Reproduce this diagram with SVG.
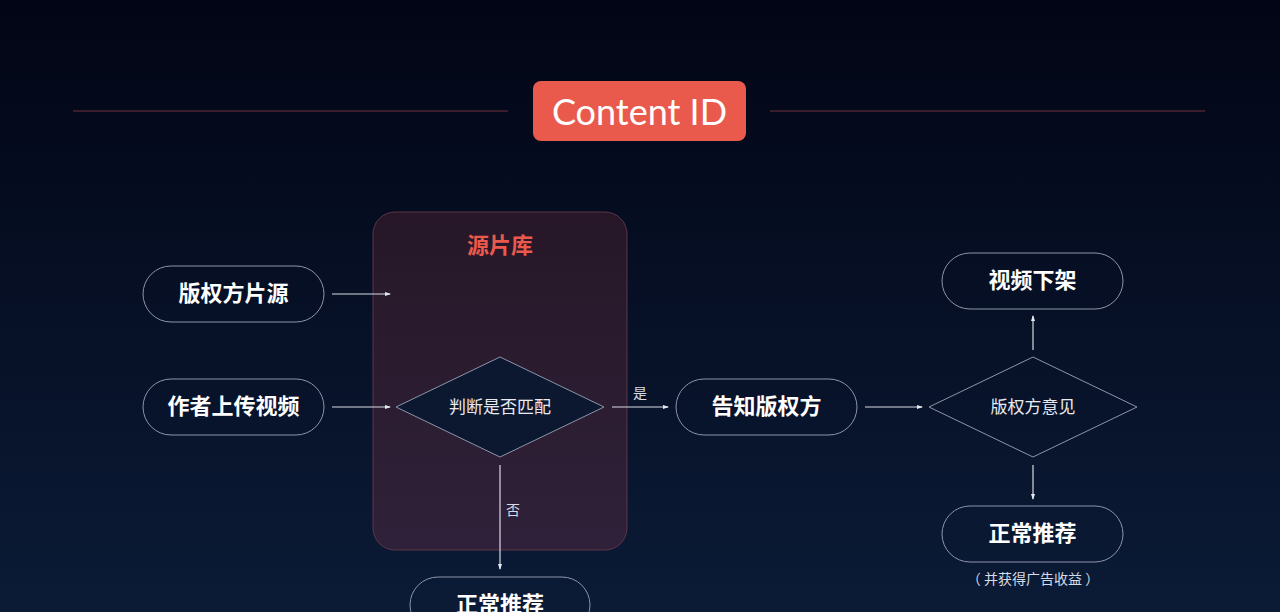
<svg xmlns="http://www.w3.org/2000/svg" width="1280" height="612" viewBox="0 0 1280 612">
<defs>
<linearGradient id="bg" x1="0" y1="0" x2="0" y2="1">
<stop offset="0" stop-color="#020515"/>
<stop offset="1" stop-color="#0b1b36"/>
</linearGradient>
<linearGradient id="lib" x1="0" y1="0" x2="0" y2="1">
<stop offset="0" stop-color="#2a1828"/>
<stop offset="1" stop-color="#33223a"/>
</linearGradient>
<marker id="ah" viewBox="0 0 6 6" refX="5" refY="3" markerWidth="6" markerHeight="6" orient="auto" markerUnits="userSpaceOnUse">
<path d="M0,1 L6,3 L0,5 Z" fill="#e6e9f0"/>
</marker>
<style>
.pill{fill:none;stroke:#8c95aa;stroke-width:1}
.dia{fill:#0c1730;stroke:#8c95aa;stroke-width:1}
.pt{font-family:"Noto Sans CJK SC","Noto Sans",sans-serif;font-size:22px;font-weight:700;fill:#ffffff;text-anchor:middle;dominant-baseline:central}
.dt{font-family:"Noto Sans CJK SC","Noto Sans",sans-serif;font-size:17px;font-weight:400;fill:#e8eaf0;text-anchor:middle;dominant-baseline:central}
.lbl{font-family:"Noto Sans CJK SC","Noto Sans",sans-serif;font-size:14px;fill:#d8dbe3;text-anchor:middle;dominant-baseline:central}
.conn{stroke:#d8dbe3;stroke-width:1.2;fill:none;marker-end:url(#ah)}
</style>
</defs>
<rect width="1280" height="612" fill="url(#bg)"/>
<g id="header">
<line x1="73" y1="111" x2="508" y2="111" stroke="#6e3340" stroke-width="1.2"/>
<line x1="770" y1="111" x2="1205" y2="111" stroke="#6e3340" stroke-width="1.2"/>
<rect x="533" y="81" width="213" height="60" rx="8" fill="#ea5a4c"/>
<text x="639.5" y="111" font-family="Lato,Inter,sans-serif" font-size="36" fill="#ffffff" text-anchor="middle" dominant-baseline="central">Content ID</text>
</g>
<g id="library">
<rect x="373" y="212" width="254" height="338" rx="22" fill="url(#lib)" fill-opacity="0.9" stroke="#5e3448" stroke-width="1"/>
<text x="500" y="243" font-family="'Noto Sans CJK SC',sans-serif" font-size="22" font-weight="700" fill="#ea5a4c" text-anchor="middle" dominant-baseline="central">源片库</text>
</g>
<g id="connectors">
<line class="conn" x1="332" y1="294" x2="390" y2="294"/>
<line class="conn" x1="332" y1="407" x2="390" y2="407"/>
<line class="conn" x1="612" y1="407" x2="668" y2="407"/>
<line class="conn" x1="865" y1="407" x2="922" y2="407"/>
<line class="conn" x1="1033" y1="350" x2="1033" y2="316"/>
<line class="conn" x1="1033" y1="465" x2="1033" y2="499"/>
<line class="conn" x1="500" y1="465" x2="500" y2="569"/>
<text class="lbl" x="640" y="392">是</text>
<text class="lbl" x="513" y="509">否</text>
</g>
<g id="n-source">
<rect class="pill" x="143" y="266" width="181" height="56" rx="28"/>
<text class="pt" x="233.5" y="291">版权方片源</text>
</g>
<g id="n-upload">
<rect class="pill" x="143" y="379" width="181" height="56" rx="28"/>
<text class="pt" x="233.5" y="404">作者上传视频</text>
</g>
<g id="n-match">
<polygon class="dia" points="396,407 500,357 604,407 500,457"/>
<text class="dt" x="500" y="405">判断是否匹配</text>
</g>
<g id="n-notify">
<rect class="pill" x="676" y="379" width="181" height="56" rx="28"/>
<text class="pt" x="766.5" y="404">告知版权方</text>
</g>
<g id="n-opinion">
<polygon class="dia" points="929,407 1033,357 1137,407 1033,457" style="fill:none"/>
<text class="dt" x="1033" y="405">版权方意见</text>
</g>
<g id="n-takedown">
<rect class="pill" x="942" y="253" width="181" height="56" rx="28"/>
<text class="pt" x="1032.5" y="278">视频下架</text>
</g>
<g id="n-recommend-right">
<rect class="pill" x="942" y="506" width="181" height="56" rx="28"/>
<text class="pt" x="1032.5" y="531">正常推荐</text>
<text class="lbl" x="1033" y="578">（ 并获得广告收益 ）</text>
</g>
<g id="n-recommend-bottom">
<rect class="pill" x="410" y="577" width="180" height="56" rx="28"/>
<text class="pt" x="500" y="602">正常推荐</text>
</g>
</svg>
